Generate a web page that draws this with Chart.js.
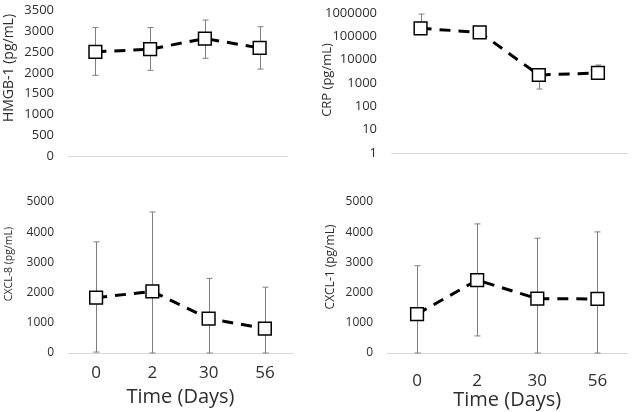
<!DOCTYPE html>
<html>
<head>
<meta charset="utf-8">
<script src="https://cdn.jsdelivr.net/npm/chart.js@4.4.1/dist/chart.umd.min.js"></script>
<style>
  html, body { margin: 0; padding: 0; background: #fff; }
  #wrap { position: relative; width: 638px; height: 412px; overflow: hidden; }
  canvas { position: absolute; }
</style>
</head>
<body>
<div id="wrap">
  <canvas id="hmgb" width="320" height="170" style="left:0;top:0"></canvas>
  <canvas id="crp" width="318" height="170" style="left:320px;top:0"></canvas>
  <canvas id="cxcl8" width="320" height="242" style="left:0;top:170px"></canvas>
  <canvas id="cxcl1" width="318" height="242" style="left:320px;top:170px"></canvas>
</div>
<script>
const days = ['0', '2', '30', '56'];

const hmgbMean = [2505, 2570, 2825, 2600];
const hmgbHigh = [3090, 3090, 3270, 3110];
const hmgbLow = [1940, 2060, 2350, 2090];

const crpMean = [220000, 148000, 2200, 2700];
const crpHigh = [900000, 260000, 3000, 5900];
const crpLow = [180000, 110000, 550, 2200];

const cxcl8Mean = [1830, 2040, 1140, 810];
const cxcl8High = [3680, 4670, 2470, 2180];
const cxcl8Low = [30, 0, 0, 0];

const cxcl1Mean = [1290, 2415, 1800, 1790];
const cxcl1High = [2890, 4275, 3800, 4010];
const cxcl1Low = [0, 565, 0, 0];

const textColor = '#2e2e2e';
const fontFamily = '"Open Sans", sans-serif';

// error bars go under the line and markers
const errorBars = {
    id: 'errorBars',
    beforeDatasetsDraw(chart) {
        const ds = chart.data.datasets[0];
        const meta = chart.getDatasetMeta(0);
        const y = chart.scales.y;
        const c = chart.ctx;
        c.save();
        c.strokeStyle = '#7f7f7f';
        c.lineWidth = 1;
        meta.data.forEach((pt, i) => {
            const x = Math.round(pt.x) + 0.5;
            const top = y.getPixelForValue(ds.errHigh[i]);
            const bot = y.getPixelForValue(ds.errLow[i]);
            c.beginPath();
            c.moveTo(x, top); c.lineTo(x, bot);
            c.moveTo(x - 3, top); c.lineTo(x + 3, top);
            c.moveTo(x - 3, bot); c.lineTo(x + 3, bot);
            c.stroke();
        });
        c.restore();
    }
};

// rotated y title, placed by hand like the original
const sideLabel = {
    id: 'sideLabel',
    afterDraw(chart, args, opts) {
        const c = chart.ctx;
        c.save();
        c.translate(opts.x, opts.y);
        c.rotate(-Math.PI / 2);
        c.font = opts.size + 'px ' + fontFamily;
        c.fillStyle = textColor;
        c.textAlign = 'center';
        c.textBaseline = 'middle';
        c.fillText(opts.text, 0, 0);
        c.restore();
    }
};

function makePanel(id, p) {
    const showX = !!p.xLabels;
    const yScale = {
        type: p.log ? 'logarithmic' : 'linear',
        min: p.min,
        max: p.max,
        grid: { display: false, drawTicks: false },
        border: { display: false },
        ticks: {
            color: textColor,
            font: { family: fontFamily, size: p.tickSize },
            padding: 14,
            callback: v => String(v)
        },
        afterFit: s => {
            s.width = p.yWidth;
            s.paddingTop = 0;
            s.paddingBottom = 0;
        }
    };
    if (p.log) {
        yScale.afterBuildTicks = s => {
            s.ticks = [1, 10, 100, 1000, 10000, 100000, 1000000].map(v => ({ value: v }));
        };
    } else {
        yScale.ticks.stepSize = p.step;
    }

    return new Chart(document.getElementById(id), {
        type: 'line',
        data: {
            labels: days,
            datasets: [{
                data: p.mean,
                errHigh: p.high,
                errLow: p.low,
                borderColor: '#000',
                borderWidth: 3,
                borderDash: [11, 8],
                tension: 0,
                pointStyle: 'rect',
                pointRadius: 9,
                pointHoverRadius: 9,
                pointBackgroundColor: '#fff',
                pointBorderColor: '#000',
                pointBorderWidth: 1.5
            }]
        },
        options: {
            responsive: false,
            animation: false,
            layout: { padding: p.pad },
            plugins: {
                legend: { display: false },
                tooltip: { enabled: false },
                sideLabel: p.label
            },
            scales: {
                x: {
                    offset: true,
                    grid: { display: false, drawTicks: false },
                    border: { color: '#d9d9d9', width: 1 },
                    ticks: {
                        display: showX,
                        color: textColor,
                        font: { family: fontFamily, size: 17 },
                        padding: p.xTickPad || 0,
                        maxRotation: 0
                    },
                    title: {
                        display: showX,
                        text: 'Time (Days)',
                        color: textColor,
                        font: { family: fontFamily, size: 20 },
                        padding: { top: 0, bottom: p.xTitlePad || 0 }
                    },
                    afterFit: s => {
                        s.height = p.xHeight;
                        s.paddingLeft = 0;
                        s.paddingRight = 0;
                    }
                },
                y: yScale
            }
        },
        plugins: [errorBars, sideLabel]
    });
}

makePanel('hmgb', {
    mean: hmgbMean, high: hmgbHigh, low: hmgbLow,
    min: 0, max: 3500, step: 500, tickSize: 13,
    yWidth: 68, xHeight: 0,
    pad: { top: 6, right: 33, bottom: 14, left: 0 },
    label: { text: 'HMGB-1 (pg/mL)', x: 9, y: 68, size: 14 }
});

makePanel('crp', {
    mean: crpMean, high: crpHigh, low: crpLow, log: true,
    min: 1, max: 1000000, tickSize: 13,
    yWidth: 71, xHeight: 0,
    pad: { top: 13, right: 10, bottom: 17, left: 0 },
    label: { text: 'CRP (pg/mL)', x: 7, y: 80, size: 13 }
});

makePanel('cxcl8', {
    mean: cxcl8Mean, high: cxcl8High, low: cxcl8Low,
    min: 0, max: 5000, step: 1000, tickSize: 12,
    yWidth: 68, xHeight: 59, xLabels: true, xTickPad: 10, xTitlePad: 3,
    pad: { top: 32, right: 27, bottom: 0, left: 0 },
    label: { text: 'CXCL-8 (pg/mL)', x: 9, y: 94, size: 10.5 }
});

makePanel('cxcl1', {
    mean: cxcl1Mean, high: cxcl1High, low: cxcl1Low,
    min: 0, max: 5000, step: 1000, tickSize: 12,
    yWidth: 67, xHeight: 59, xLabels: true, xTickPad: 18, xTitlePad: 0,
    pad: { top: 32, right: 3, bottom: 0, left: 0 },
    label: { text: 'CXCL-1 (pg/mL)', x: 11, y: 97, size: 12 }
});
</script>
</body>
</html>
